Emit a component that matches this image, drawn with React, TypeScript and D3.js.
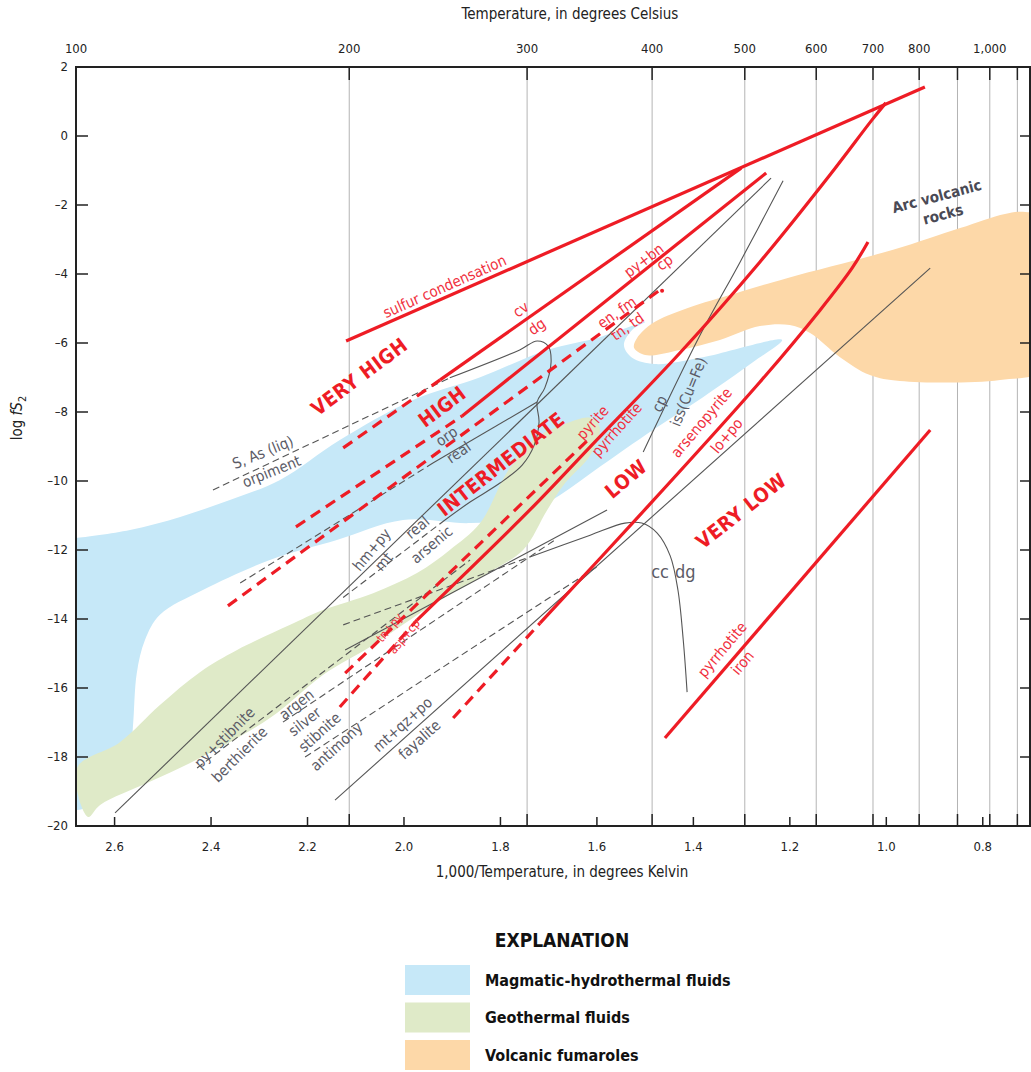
import React from "react";
import * as d3 from "d3";

const W = 1031;
const H = 1072;

// axes
const tempGrid = [200, 300, 400, 500, 600, 700, 800, 900, 1000, 1100];
const tempLabels = [100, 200, 300, 400, 500, 600, 700, 800, 1000];
const invTicks = [2.6, 2.4, 2.2, 2.0, 1.8, 1.6, 1.4, 1.2, 1.0, 0.8];
const logTicks = [2, 0, -2, -4, -6, -8, -10, -12, -14, -16, -18, -20];

// fluid fields, [1000/T, log fS2]
const magmatic = [
  [2.68, -11.65], [2.568, -11.42], [2.464, -11.04], [2.361, -10.55], [2.257, -9.97],
  [2.133, -8.81], [1.981, -7.65], [1.842, -6.99], [1.703, -6.2], [1.594, -5.83],
  [1.5, -5.39], [1.527, -5.62], [1.544, -6.06], [1.527, -6.43], [1.48, -6.61],
  [1.386, -6.43], [1.216, -5.91], [1.276, -6.55], [1.38, -7.57], [1.484, -8.52],
  [1.594, -9.59], [1.677, -10.41], [1.759, -11.04], [1.863, -11.22], [2.002, -11.13],
  [2.139, -11.71], [2.278, -12.29], [2.417, -13.16], [2.506, -13.88], [2.537, -14.61],
  [2.554, -15.57], [2.562, -17.13], [2.572, -18.38], [2.63, -19.25], [2.69, -19.48],
  [2.69, -11.65],
];
const geothermal = [
  [2.678, -18.32], [2.589, -17.57], [2.506, -16.49], [2.423, -15.54], [2.346, -14.9],
  [2.236, -14.17], [2.168, -13.74], [2.064, -13.25], [1.973, -12.67], [1.905, -12.0],
  [1.842, -11.22], [1.786, -9.74], [1.732, -8.81], [1.662, -8.32], [1.614, -8.17],
  [1.594, -8.46], [1.614, -9.25], [1.666, -10.06], [1.703, -10.84], [1.753, -12.0],
  [1.822, -12.64], [1.94, -13.59], [2.064, -14.75], [2.168, -15.62], [2.278, -16.87],
  [2.423, -18.03], [2.527, -18.72], [2.63, -19.39], [2.655, -19.74],
];
const fumaroles = [
  [1.517, -5.86], [1.484, -5.42], [1.413, -4.99], [1.31, -4.55], [1.206, -4.12],
  [0.986, -3.3], [0.847, -2.67], [0.754, -2.26], [0.712, -2.2], [0.671, -2.38],
  [0.671, -6.72], [0.764, -7.07], [0.972, -7.1], [1.034, -6.93], [1.096, -6.41],
  [1.158, -5.71], [1.2, -5.48], [1.262, -5.51], [1.345, -5.91], [1.428, -6.2],
  [1.5, -6.35], [1.523, -6.14],
];

// sulfidation boundaries (red)
const sulfurCondensation = [[2.12, -5.94], [0.92, 1.42]];
const cvDgDashed = [[2.126, -9.04], [1.925, -7.07]];
const cvDg = [[1.925, -7.07], [1.301, -0.93]];
const pyBnDashed = [[2.224, -11.33], [1.88, -8.12]];
const pyBnCp = [[1.88, -8.12], [1.249, -1.07]];
const enFmTnTd = [[2.365, -13.62], [1.469, -4.46]];
const tnPyAspCp = [[2.122, -15.57], [1.614, -8.75]];
const pyritePoDashed = [[2.133, -16.55], [1.973, -14.03]];
const pyritePo = [
  [1.973, -14.03], [1.739, -10.84], [1.614, -9.01], [1.428, -6.29],
  [1.262, -3.65], [1.117, -1.13], [1.03, 0.46], [1.001, 0.96],
];
const asPyDashed = [[1.898, -16.87], [1.718, -14.12]];
const asPyLoPo = [
  [1.718, -14.12], [1.511, -10.99], [1.262, -7.13], [1.137, -5.04],
  [1.071, -3.83], [1.038, -3.07],
];
const poIron = [[1.459, -17.45], [0.909, -8.52]];

// mineral reactions (gray)
const sAsDashed = [[2.396, -10.26], [1.905, -7.01]];
const sAsLoop = [
  [1.905, -7.01], [1.76, -6.2], [1.724, -5.94], [1.701, -6.09], [1.695, -6.55],
  [1.708, -7.3], [1.724, -7.71], [1.72, -8.29], [1.73, -8.96], [1.755, -9.54],
  [1.801, -10.06], [1.863, -10.61], [1.915, -11.13],
];
const realArsenic = [[1.915, -11.13], [2.133, -13.45]];
const orpReal = [[1.724, -7.71], [1.94, -9.48]];
const orpRealDashed = [[1.94, -9.48], [2.34, -12.96]];
const hmPyMt = [[2.599, -19.62], [1.239, -1.22]];
const cpIss = [[1.214, -1.3], [1.303, -3.65], [1.386, -5.77], [1.504, -9.16]];
const mtQzPo = [[2.143, -19.25], [0.909, -3.83]];
const ccDgDashed = [[2.126, -14.17], [1.739, -12.2]];
const ccDg = [
  [1.739, -12.2], [1.614, -11.57], [1.542, -11.22], [1.507, -11.22], [1.475, -11.51],
  [1.448, -12.17], [1.432, -13.16], [1.421, -14.61], [1.413, -16.12],
];
const lowCross = [[1.579, -10.84], [2.122, -14.9]];
const pyStibnite = [[2.429, -18.32], [1.863, -12.29]];
const argenSilver = [[2.251, -16.99], [1.687, -11.71]];
const stibniteSb = [[2.205, -18.0], [1.594, -12.43]];

// labels: text, 1000/T, log fS2, rotation
const regionLabels = [
  ["VERY HIGH", 2.091, -7.01, -37],
  ["HIGH", 1.919, -7.88, -37],
  ["INTERMEDIATE", 1.797, -9.54, -38],
  ["LOW", 1.538, -9.97, -40],
  ["VERY LOW", 1.299, -10.9, -38],
];
const redLabels = [
  ["sulfur condensation", 1.915, -4.38, -24],
  ["cv", 1.757, -5.04, -35],
  ["dg", 1.724, -5.54, -35],
  ["py+bn", 1.502, -3.62, -37],
  ["cp", 1.459, -3.68, -37],
  ["en, fm", 1.558, -5.13, -35],
  ["tn, td", 1.536, -5.54, -35],
  ["pyrite", 1.608, -8.32, -48],
  ["pyrrhotite", 1.558, -8.52, -48],
  ["arsenopyrite", 1.382, -8.32, -50],
  ["lo+po", 1.33, -8.7, -50],
  ["pyrrhotite", 1.339, -14.9, -50],
  ["iron", 1.297, -15.28, -50],
];
const smallRedLabels = [
  ["tn+py", 2.029, -14.26, -50],
  ["asp+cp", 1.998, -14.52, -50],
];
const grayLabels = [
  ["S, As (liq)", 2.292, -9.19, -22],
  ["orpiment", 2.274, -9.74, -22],
  ["orp", 1.911, -8.72, -35],
  ["real", 1.886, -9.19, -35],
  ["hm+py", 2.066, -12.0, -50],
  ["mt", 2.041, -12.35, -50],
  ["real", 1.971, -11.36, -40],
  ["arsenic", 1.942, -11.86, -40],
  ["py+stibnite", 2.371, -17.45, -45],
  ["berthierite", 2.34, -17.94, -45],
  ["argen", 2.222, -16.49, -38],
  ["silver", 2.205, -16.99, -38],
  ["stibnite", 2.174, -17.3, -42],
  ["antimony", 2.139, -17.71, -42],
  ["mt+qz+po", 2.002, -17.07, -42],
  ["fayalite", 1.967, -17.51, -42],
  ["cp", 1.469, -7.77, -65],
  ["iss(Cu=Fe)", 1.409, -7.42, -68],
];
const ccDgLabels = [["cc", 1.469, -12.67], ["dg", 1.417, -12.67]];
const arcLabels = [["Arc volcanic", 0.895, -1.77, -15], ["rocks", 0.882, -2.29, -15]];

const legendItems = [
  ["Magmatic-hydrothermal fluids", "#c6e8f8"],
  ["Geothermal fluids", "#dfeac8"],
  ["Volcanic fumaroles", "#fdd8a8"],
];

const FONT = "'Liberation Sans Narrow','Arial Narrow','DejaVu Sans Condensed',Roboto,sans-serif";
const RED = "#ee1c25";
const LINEGRAY = "#555";
const TEXTGRAY = "#5b5b66";

const invT = (c) => 1000 / (c + 273.15);

export default function App() {
  const x = d3.scaleLinear().domain([2.68, 0.7]).range([76, 1031]);
  const y = d3.scaleLinear().domain([2, -20]).range([67, 826]);
  const [x0, x1] = x.range();
  const [y1, y0] = [y(2), y(-20)];

  const path = (pts) =>
    d3.line()
      .x((d) => x(d[0]))
      .y((d) => y(d[1]))
      .curve(pts.length > 2 ? d3.curveCatmullRom.alpha(0.5) : d3.curveLinear)(pts);
  const area = (pts) =>
    d3.line()
      .x((d) => x(d[0]))
      .y((d) => y(d[1]))
      .curve(d3.curveCatmullRomClosed.alpha(0.5))(pts);

  const redLines = [
    [sulfurCondensation, false], [cvDgDashed, true], [cvDg, false],
    [pyBnDashed, true], [pyBnCp, false], [enFmTnTd, true], [tnPyAspCp, true],
    [pyritePoDashed, true], [pyritePo, false], [asPyDashed, true], [asPyLoPo, false],
    [poIron, false],
  ];
  const grayLines = [
    [sAsDashed, true], [sAsLoop, false], [realArsenic, true], [orpReal, false],
    [orpRealDashed, true], [hmPyMt, false], [cpIss, false], [mtQzPo, false],
    [ccDgDashed, true], [ccDg, false], [lowCross, false], [pyStibnite, true],
    [argenSilver, true], [stibniteSb, true],
  ];

  const rotText = (l, i, props) => (
    <text
      key={i}
      transform={`translate(${x(l[1])},${y(l[2])}) rotate(${l[3]})`}
      textAnchor="middle"
      dominantBaseline="middle"
      {...props}
    >
      {l[0]}
    </text>
  );

  return (
    <div style={{ position: "absolute", left: 0, top: 0 }}>
      <svg width={W} height={H} style={{ display: "block", fontFamily: FONT }}>
        <rect width={W} height={H} fill="#fff" />
        <defs>
          <clipPath id="plot">
            <rect x={x0} y={y1} width={x1 - x0} height={y0 - y1} />
          </clipPath>
        </defs>

        {/* temperature grid */}
        {tempGrid.map((c) => (
          <line key={c} x1={x(invT(c))} x2={x(invT(c))} y1={y1} y2={y0} stroke="#b4b4b4" strokeWidth={1} />
        ))}

        <g clipPath="url(#plot)">
          <path d={area(magmatic)} fill="#c6e8f8" />
          <path d={area(geothermal)} fill="#dfeac8" />
          <path d={area(fumaroles)} fill="#fdd8a8" />

          {grayLines.map(([pts, dashed], i) => (
            <path key={i} d={path(pts)} fill="none" stroke={LINEGRAY} strokeWidth={1.1}
              strokeDasharray={dashed ? "7,4" : null} />
          ))}
          {redLines.map(([pts, dashed], i) => (
            <path key={i} d={path(pts)} fill="none" stroke={RED} strokeWidth={3.2}
              strokeDasharray={dashed ? "11,7" : null} />
          ))}
          <circle cx={x(enFmTnTd[1][0]) + 2} cy={y(enFmTnTd[1][1]) + 1} r={2} fill={RED} />
        </g>

        {/* labels */}
        {regionLabels.map((l, i) =>
          rotText(l, i, { fill: RED, fontSize: 20, fontWeight: 700, letterSpacing: 0.5 }))}
        {redLabels.map((l, i) => rotText(l, i, { fill: "#f0303e", fontSize: 15 }))}
        {smallRedLabels.map((l, i) => rotText(l, i, { fill: "#f0303e", fontSize: 12 }))}
        {grayLabels.map((l, i) => rotText(l, i, { fill: TEXTGRAY, fontSize: 15 }))}
        {ccDgLabels.map((l, i) => (
          <text key={i} x={x(l[1])} y={y(l[2])} textAnchor="middle" dominantBaseline="middle"
            fill={TEXTGRAY} fontSize={18}>{l[0]}</text>
        ))}
        {arcLabels.map((l, i) =>
          rotText(l, i, { fill: "#4a4a55", fontSize: 15, fontWeight: 700 }))}

        {/* frame */}
        <rect x={x0} y={y1} width={x1 - x0 - 1} height={y0 - y1} fill="none" stroke="#222" strokeWidth={2} />

        {/* left & right ticks */}
        {logTicks.map((t) => (
          <g key={t}>
            <line x1={x0} x2={x0 + 12} y1={y(t)} y2={y(t)} stroke="#222" strokeWidth={1.5} />
            <line x1={x1 - 11} x2={x1} y1={y(t)} y2={y(t)} stroke="#222" strokeWidth={1.5} />
            <text x={x0 - 8} y={y(t)} textAnchor="end" dominantBaseline="middle" fontSize={13} fill="#222">
              {t < 0 ? `–${-t}` : t}
            </text>
          </g>
        ))}

        {/* top ticks (Celsius) */}
        {tempGrid.map((c) => (
          <g key={c}>
            <line x1={x(invT(c))} x2={x(invT(c))} y1={y1} y2={y1 + 13} stroke="#222" strokeWidth={1.5} />
            <line x1={x(invT(c))} x2={x(invT(c))} y1={y0 - 12} y2={y0} stroke="#222" strokeWidth={1.5} />
          </g>
        ))}
        {tempLabels.map((c) => (
          <text key={c} x={x(invT(c))} y={y1 - 14} textAnchor="middle" fontSize={13} fill="#222">
            {d3.format(",")(c)}
          </text>
        ))}

        {/* bottom ticks (1000/T) */}
        {invTicks.map((v) => (
          <g key={v}>
            <line x1={x(v)} x2={x(v)} y1={y0 - 9} y2={y0} stroke="#222" strokeWidth={1.5} />
            <text x={x(v)} y={y0 + 25} textAnchor="middle" fontSize={13} fill="#222">
              {d3.format(".1f")(v)}
            </text>
          </g>
        ))}

        {/* axis titles */}
        <text x={570} y={19} textAnchor="middle" fontSize={15} fill="#222">
          Temperature, in degrees Celsius
        </text>
        <text x={562} y={877} textAnchor="middle" fontSize={15} fill="#222">
          1,000/Temperature, in degrees Kelvin
        </text>
        <text transform="translate(22,418) rotate(-90)" textAnchor="middle" fontSize={15} fill="#222">
          log <tspan fontStyle="italic">fS</tspan>
          <tspan fontSize={11} dy={4}>2</tspan>
        </text>

        {/* legend */}
        <text x={562} y={947} textAnchor="middle" fontSize={19} fontWeight={700} fill="#111">
          EXPLANATION
        </text>
        {legendItems.map(([label, color], i) => (
          <g key={label} transform={`translate(405,${965 + i * 37.5})`}>
            <rect width={65} height={30} fill={color} />
            <text x={80} y={16} dominantBaseline="middle" fontSize={16} fontWeight={700} fill="#111">
              {label}
            </text>
          </g>
        ))}
      </svg>
    </div>
  );
}
